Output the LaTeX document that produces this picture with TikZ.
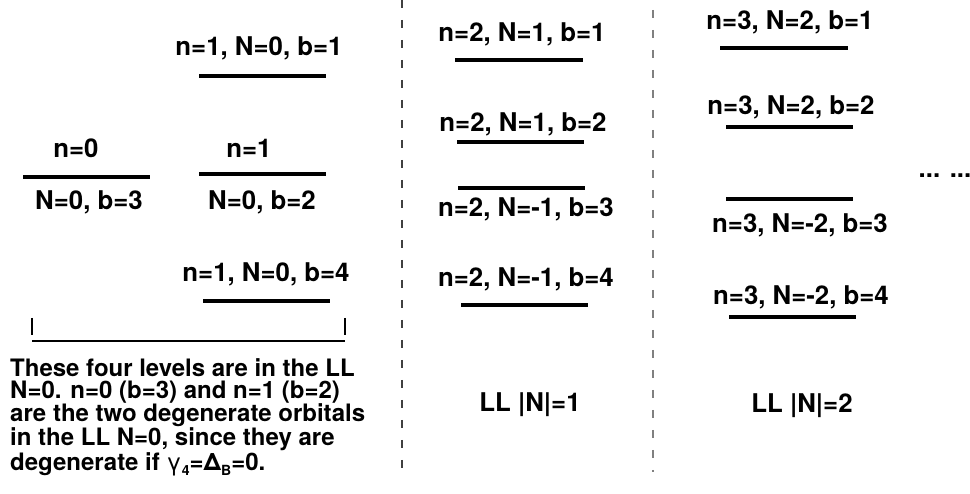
\documentclass[tikz,border=0pt]{standalone}
\usepackage{fontspec}
\setmainfont{TeX Gyre Heros}
\newcommand{\lowsub}[1]{\raisebox{-0.45ex}{\fontsize{14}{14}\selectfont #1}}
\begin{document}
\begin{tikzpicture}[x=1pt,y=-1pt,
  lbl/.style={anchor=base,inner sep=0pt,font=\fontsize{25.8}{25}\selectfont\bfseries},
  level/.style={line width=3.6pt},
  divider/.style={line width=1.2pt,dash pattern=on 8pt off 12pt}]
\useasboundingbox (0,0) rectangle (970,494);

% column separators
\draw[divider,black!75] (402,0) -- (402,472);
\draw[divider,black!50] (653,10) -- (653,472);

% LL N=0
\node[lbl] (a1) at (259,56) {n=1, N=0, b=1};
\draw[level] (199,76) -- (326,76);
\node[lbl] (a2) at (76,158) {n=0};
\draw[level] (23,177) -- (150,177);
\node[lbl] (a3) at (89,210) {N=0, b=3};
\node[lbl] (a4) at (249,158) {n=1};
\draw[level] (199,174) -- (326,174);
\node[lbl] (a5) at (262,210) {N=0, b=2};
\node[lbl] (a6) at (266,282) {n=1, N=0, b=4};
\draw[level] (203,301) -- (330,301);

% bracket under the four levels
\coordinate (bl) at (32,341);
\coordinate (br) at (345,341);
\draw[line width=2pt] (bl) -- (br);
\draw[line width=1.6pt] (32,318) -- (32,335);
\draw[line width=1.6pt] (345,318) -- (345,335);

\node[anchor=north west,inner sep=0pt,align=left,
      font=\fontsize{24}{22}\selectfont\bfseries] (note) at (10,358)
  {These four levels are in the LL\\
   N=0. n=0 (b=3) and n=1 (b=2)\\
   are the two degenerate orbitals\\
   in the LL N=0, since they are\\
   degenerate if {\mdseries γ}\lowsub{4}=Δ\lowsub{B}=0.};

% LL |N|=1
\node[lbl] (b1) at (522,42) {n=2, N=1, b=1};
\draw[level] (455,60) -- (583,60);
\node[lbl] (b2) at (523,132) {n=2, N=1, b=2};
\draw[level] (457,142) -- (584,142);
\draw[level] (458,188) -- (585,188);
\node[lbl] (b3) at (526,217) {n=2, N=-1, b=3};
\node[lbl] (b4) at (526,287) {n=2, N=-1, b=4};
\draw[level] (461,305) -- (588,305);
\node[lbl] (b5) at (530,412) {LL |N|=1};

% LL |N|=2
\node[lbl] (c1) at (790,30) {n=3, N=2, b=1};
\draw[level] (720,48) -- (848,48);
\node[lbl] (c2) at (791,115) {n=3, N=2, b=2};
\draw[level] (726,127) -- (853,127);
\draw[level] (726,199) -- (853,199);
\node[lbl] (c3) at (800,233) {n=3, N=-2, b=3};
\node[lbl] (c4) at (801,305) {n=3, N=-2, b=4};
\draw[level] (729,317) -- (856,317);
\node[lbl] (c5) at (802,413) {LL |N|=2};
\node[lbl] (dots) at (945,178) {... ...};
\end{tikzpicture}
\end{document}
